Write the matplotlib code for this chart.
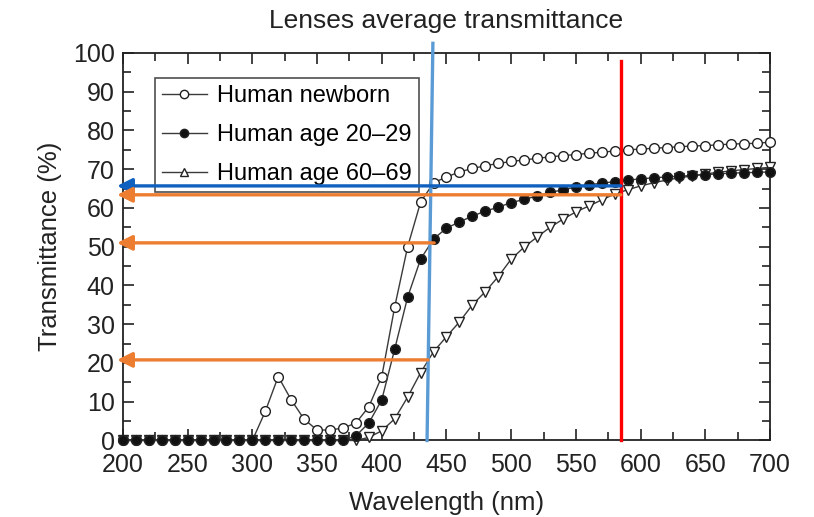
import numpy as np
import matplotlib
matplotlib.use("Agg")
import matplotlib.pyplot as plt
from matplotlib.lines import Line2D
from matplotlib.ticker import MultipleLocator

plt.rcParams['font.family'] = ['Liberation Sans', 'DejaVu Sans']

# wavelength grid (nm), one sample every 10 nm
wl = list(range(200, 701, 10))

newborn = [0]*11 + [7.5, 16.5, 10.5, 5.5, 2.7, 2.7, 3.2, 4.5, 8.7, 16.5,
                    34.5, 50.0, 61.5, 66.5, 68.0, 69.3, 70.2, 70.9, 71.5, 72.0,
                    72.4, 72.8, 73.2, 73.5, 73.8, 74.1, 74.4, 74.7, 75.0, 75.2,
                    75.4, 75.6, 75.8, 76.0, 76.1, 76.3, 76.5, 76.6, 76.7, 77.0]
age20 = [0]*18 + [1.2, 4.5, 10.5, 23.6, 37.0, 46.8, 52.0, 54.8, 56.4, 57.9,
                  59.2, 60.2, 61.4, 62.2, 63.1, 64.0, 64.7, 65.4, 66.0, 66.4,
                  66.8, 67.2, 67.5, 67.8, 68.0, 68.2, 68.4, 68.6, 68.8, 69.0,
                  69.1, 69.2, 69.3]
age60 = [0]*19 + [0.8, 2.5, 5.6, 11.2, 17.5, 22.9, 26.8, 30.6, 35.0, 38.4,
                  42.3, 46.8, 49.9, 52.5, 55.0, 57.1, 59.0, 60.5, 62.1, 63.6,
                  64.7, 65.7, 66.5, 67.2, 67.8, 68.3, 68.8, 69.2, 69.6, 69.9,
                  70.2, 70.5]

# annotation overlays (data coordinates)
blue_vline = ([439.5, 435.0], [102.5, 0.0])
red_vline = ([584.8, 584.8], [98.0, 0.0])
blue_arrow = (584.8, 65.7)
orange_arrows = [(584.8, 63.4), (440.5, 51.0), (435.8, 20.8)]
arrow_tip_x = 195.5

fig = plt.figure(figsize=(8.14, 5.17), dpi=100)
ax = fig.add_axes([0.151, 0.148, 0.795, 0.7495])

line_kw = dict(color='#3a3a3a', lw=1.0, markeredgecolor='#222222',
               markeredgewidth=1.0, clip_on=False)
ax.plot(wl, newborn, marker='o', markersize=7, markerfacecolor='white', zorder=3, **line_kw)
ax.plot(wl, age60, marker='v', markersize=7, markerfacecolor='white', zorder=3, **line_kw)
ax.plot(wl, age20, marker='o', markersize=7, markerfacecolor='#111111', zorder=4, **line_kw)

ax.set_xlim(200, 700)
ax.set_ylim(0, 100)
ax.xaxis.set_major_locator(MultipleLocator(50))
ax.xaxis.set_minor_locator(MultipleLocator(25))
ax.yaxis.set_major_locator(MultipleLocator(10))
ax.yaxis.set_minor_locator(MultipleLocator(5))
ax.tick_params(which='both', direction='in', top=True, right=True,
               labelsize=18, width=1.2, color='#222222', labelcolor='#222222')
ax.tick_params(which='major', length=8)
ax.tick_params(which='minor', length=6)
ax.tick_params(axis='x', which='major', pad=9)
ax.tick_params(axis='y', which='major', pad=6)
for s in ax.spines.values():
    s.set_linewidth(1.3)
    s.set_color('#222222')

ax.set_xlabel('Wavelength (nm)', fontsize=18.5, labelpad=10, color='#222222')
ax.set_ylabel('Transmittance (%)', fontsize=18.5, labelpad=8, color='#222222')
ax.set_title('Lenses average transmittance', fontsize=19, pad=18, color='#222222')

handles = [
    Line2D([], [], color='#3a3a3a', lw=1.0, marker='o', markersize=6,
           markerfacecolor='white', markeredgecolor='#222222'),
    Line2D([], [], color='#3a3a3a', lw=1.0, marker='o', markersize=6,
           markerfacecolor='#111111', markeredgecolor='#222222'),
    Line2D([], [], color='#3a3a3a', lw=1.0, marker='^', markersize=6,
           markerfacecolor='white', markeredgecolor='#222222'),
]
leg = ax.legend(handles, ['Human newborn', 'Human age 20\u201329', 'Human age 60\u201369'],
                loc='upper left', bbox_to_anchor=(0.049, 0.935), borderaxespad=0,
                fontsize=17, frameon=True, fancybox=False, handlelength=1.9,
                handletextpad=0.45, labelspacing=0.72, borderpad=0.3)
leg.get_frame().set_edgecolor('#222222')
leg.get_frame().set_linewidth(1.2)
leg.set_zorder(5)

# overlay lines and arrows
ax.plot(*blue_vline, color='#5b9bd5', lw=2.4, clip_on=False, zorder=6)
ax.plot(*red_vline, color='#ff0000', lw=2.4, clip_on=False, zorder=6)
ax.annotate('', xy=(arrow_tip_x, blue_arrow[1]), xytext=blue_arrow,
            arrowprops=dict(arrowstyle='-|>,head_length=0.9,head_width=0.45',
                            color='#1060c0', lw=2.4, shrinkA=0, shrinkB=0),
            annotation_clip=False, zorder=7)
for x0, y0 in orange_arrows:
    ax.annotate('', xy=(arrow_tip_x, y0), xytext=(x0, y0),
                arrowprops=dict(arrowstyle='-|>,head_length=0.9,head_width=0.45',
                                color='#ed7d31', lw=2.4, shrinkA=0, shrinkB=0),
                annotation_clip=False, zorder=7)

fig.savefig('out.png', dpi=100)
